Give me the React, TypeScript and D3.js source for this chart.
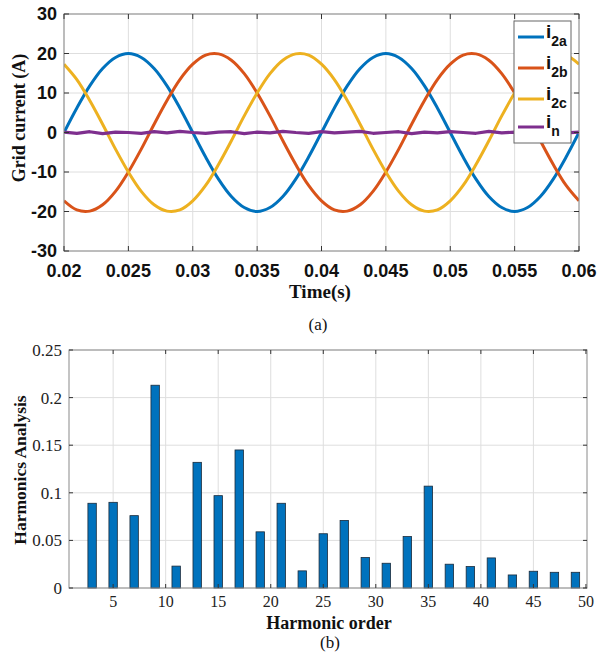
import React from "react";
import * as d3 from "d3";

const timeStart = 0.02;
const timeStep = 0.001;
const i2a = [0, 6.2, 11.8, 16.2, 19.0, 20, 19.0, 16.2, 11.8, 6.2, 0, -6.2, -11.8, -16.2, -19.0, -20, -19.0, -16.2, -11.8, -6.2,
  0, 6.2, 11.8, 16.2, 19.0, 20, 19.0, 16.2, 11.8, 6.2, 0, -6.2, -11.8, -16.2, -19.0, -20, -19.0, -16.2, -11.8, -6.2, 0];
const i2b = [-17.3, -19.6, -19.9, -18.3, -14.9, -10, -4.2, 2.1, 8.1, 13.4, 17.3, 19.6, 19.9, 18.3, 14.9, 10, 4.2, -2.1, -8.1, -13.4,
  -17.3, -19.6, -19.9, -18.3, -14.9, -10, -4.2, 2.1, 8.1, 13.4, 17.3, 19.6, 19.9, 18.3, 14.9, 10, 4.2, -2.1, -8.1, -13.4, -17.3];
const i2c = [17.3, 13.4, 8.1, 2.1, -4.2, -10, -14.9, -18.3, -19.9, -19.6, -17.3, -13.4, -8.1, -2.1, 4.2, 10, 14.9, 18.3, 19.9, 19.6,
  17.3, 13.4, 8.1, 2.1, -4.2, -10, -14.9, -18.3, -19.9, -19.6, -17.3, -13.4, -8.1, -2.1, 4.2, 10, 14.9, 18.3, 19.9, 19.6, 17.3];
const iN = [0.1, -0.2, 0.2, -0.3, 0.1, 0.0, -0.2, 0.2, -0.1, 0.3, 0.0, -0.2, 0.1, 0.2, -0.3, 0.1, -0.1, 0.3, 0.0, -0.2,
  0.2, -0.1, 0.1, 0.3, -0.2, 0.0, 0.2, -0.3, 0.1, -0.1, 0.2, 0.0, -0.2, 0.3, -0.1, 0.1, -0.3, 0.2, 0.0, -0.1, 0.1];
const seriesNames = ["2a", "2b", "2c", "n"];
const seriesColors = ["#0072BD", "#D95319", "#EDB120", "#7E2F8E"];
const timeTicks = [0.02, 0.025, 0.03, 0.035, 0.04, 0.045, 0.05, 0.055, 0.06];
const currentTicks = [-30, -20, -10, 0, 10, 20, 30];

const harmonicOrders = [3, 5, 7, 9, 11, 13, 15, 17, 19, 21, 23, 25, 27, 29, 31, 33, 35, 37, 39, 41, 43, 45, 47, 49];
const harmonicValues = [0.089, 0.09, 0.076, 0.213, 0.023, 0.132, 0.097, 0.145, 0.059, 0.089, 0.018, 0.057, 0.071, 0.032,
  0.026, 0.054, 0.107, 0.025, 0.0225, 0.0316, 0.0137, 0.0176, 0.0165, 0.0165];
const orderTicks = [5, 10, 15, 20, 25, 30, 35, 40, 45, 50];
const harmTicks = [0, 0.05, 0.1, 0.15, 0.2, 0.25];

const W = 597;
const H = 656;

export default function App() {
  // Top chart
  const tL = 64, tR = 579, tT = 14, tB = 251;
  const x1 = d3.scaleLinear().domain([0.02, 0.06]).range([tL, tR]);
  const y1 = d3.scaleLinear().domain([-30, 30]).range([tB, tT]);
  const series = [i2a, i2b, i2c, iN];
  const line = d3.line<number>()
    .x((_, i) => x1(timeStart + i * timeStep))
    .y((d) => y1(d))
    .curve(d3.curveCatmullRom);
  const lineN = d3.line<number>()
    .x((_, i) => x1(timeStart + i * timeStep))
    .y((d) => y1(d));

  // Bottom chart
  const bL = 69, bR = 587, bT = 350, bB = 588;
  const x2 = d3.scaleLinear().domain([0.8, 50.1]).range([bL, bR]);
  const y2 = d3.scaleLinear().domain([0, 0.25]).range([bB, bT]);
  const barHalf = 0.4;

  const boldSans = "'Liberation Sans', Arial, sans-serif";
  const serif = "'Liberation Serif', 'Times New Roman', serif";
  const gridC = "#dedede";
  const boxC = "#8a8a8a";
  const tickC = "#333";

  return (
    <svg width={W} height={H} style={{ position: "absolute", left: 0, top: 0, background: "#fff" }}>
      <rect x={0} y={0} width={W} height={H} fill="#fff" />
      {/* ===== Top chart ===== */}
      <defs>
        <clipPath id="clipTop">
          <rect x={tL} y={tT} width={tR - tL} height={tB - tT} />
        </clipPath>
      </defs>
      {timeTicks.map((t) => (
        <line key={"gx" + t} x1={x1(t)} x2={x1(t)} y1={tT} y2={tB} stroke={gridC} strokeWidth={1} />
      ))}
      {currentTicks.map((v) => (
        <line key={"gy" + v} x1={tL} x2={tR} y1={y1(v)} y2={y1(v)} stroke={gridC} strokeWidth={1} />
      ))}
      <g clipPath="url(#clipTop)">
        {series.map((s, k) => (
          <path key={k} d={(k === 3 ? lineN(s) : line(s)) || ""} fill="none" stroke={seriesColors[k]}
            strokeWidth={k === 3 ? 3.2 : 3} strokeLinejoin="round" />
        ))}
      </g>
      <rect x={tL} y={tT} width={tR - tL} height={tB - tT} fill="none" stroke={boxC} strokeWidth={1} />
      {timeTicks.map((t) => (
        <g key={"tx" + t}>
          <line x1={x1(t)} x2={x1(t)} y1={tB} y2={tB - 5} stroke={tickC} />
          <line x1={x1(t)} x2={x1(t)} y1={tT} y2={tT + 5} stroke={tickC} />
          <text x={x1(t)} y={277} textAnchor="middle" fontFamily={boldSans} fontWeight="bold" fontSize={18} fill="#111">
            {String(t)}
          </text>
        </g>
      ))}
      {currentTicks.map((v) => (
        <g key={"ty" + v}>
          <line x1={tL} x2={tL + 5} y1={y1(v)} y2={y1(v)} stroke={tickC} />
          <line x1={tR} x2={tR - 5} y1={y1(v)} y2={y1(v)} stroke={tickC} />
          <text x={57} y={y1(v)} dy="0.35em" textAnchor="end" fontFamily={boldSans} fontWeight="bold" fontSize={18} fill="#111">
            {String(v)}
          </text>
        </g>
      ))}
      <text transform={`translate(25,118) rotate(-90)`} textAnchor="middle" fontFamily={serif} fontWeight="bold" fontSize={18} fill="#111">
        Grid current (A)
      </text>
      <text x={320} y={298} textAnchor="middle" fontFamily={serif} fontWeight="bold" fontSize={19} fill="#111">
        Time(s)
      </text>
      <text x={318} y={330} textAnchor="middle" fontFamily={serif} fontSize={17} fill="#111">
        (a)
      </text>
      {/* Legend */}
      <rect x={514} y={21} width={57} height={122} fill="#fff" stroke="#666" strokeWidth={1} />
      {seriesNames.map((n, k) => {
        const ly = [37, 68, 99, 127][k];
        return (
          <g key={"lg" + n}>
            <line x1={518} x2={544} y1={ly} y2={ly} stroke={seriesColors[k]} strokeWidth={3} />
            <text x={546} y={ly + 1} fontFamily={boldSans} fontWeight="bold" fontSize={19} fill="#111">
              i
              <tspan dy={8} fontSize={14}>{n}</tspan>
            </text>
          </g>
        );
      })}

      {/* ===== Bottom chart ===== */}
      {orderTicks.filter((t) => t < 50).map((t) => (
        <line key={"bgx" + t} x1={x2(t)} x2={x2(t)} y1={bT} y2={bB} stroke={gridC} strokeWidth={1} />
      ))}
      {harmTicks.map((v) => (
        <line key={"bgy" + v} x1={bL} x2={bR} y1={y2(v)} y2={y2(v)} stroke={gridC} strokeWidth={1} />
      ))}
      {harmonicOrders.map((h, i) => (
        <rect key={"bar" + h} x={x2(h - barHalf)} y={y2(harmonicValues[i])}
          width={x2(h + barHalf) - x2(h - barHalf)} height={y2(0) - y2(harmonicValues[i])}
          fill="#0072BD" stroke="#1a2a3a" strokeWidth={0.8} />
      ))}
      <rect x={bL} y={bT} width={bR - bL} height={bB - bT} fill="none" stroke={boxC} strokeWidth={1} />
      {orderTicks.map((t) => (
        <g key={"bx" + t}>
          <line x1={x2(t)} x2={x2(t)} y1={bB} y2={bB - 4} stroke={tickC} />
          <line x1={x2(t)} x2={x2(t)} y1={bT} y2={bT + 4} stroke={tickC} />
          <text x={x2(t)} y={607} textAnchor="middle" fontFamily={serif} fontSize={16} fill="#222">
            {String(t)}
          </text>
        </g>
      ))}
      {harmTicks.map((v) => (
        <g key={"by" + v}>
          <line x1={bL} x2={bL + 4} y1={y2(v)} y2={y2(v)} stroke={tickC} />
          <line x1={bR} x2={bR - 4} y1={y2(v)} y2={y2(v)} stroke={tickC} />
          <text x={62} y={y2(v)} dy="0.35em" textAnchor="end" fontFamily={serif} fontSize={17} fill="#222">
            {String(v)}
          </text>
        </g>
      ))}
      <text transform={`translate(26,470) rotate(-90)`} textAnchor="middle" fontFamily={serif} fontWeight="bold" fontSize={17.5} fill="#111">
        Harmonics Analysis
      </text>
      <text x={329} y={629} textAnchor="middle" fontFamily={serif} fontWeight="bold" fontSize={18} fill="#111">
        Harmonic order
      </text>
      <text x={330} y={648} textAnchor="middle" fontFamily={serif} fontSize={17} fill="#111">
        (b)
      </text>
    </svg>
  );
}
